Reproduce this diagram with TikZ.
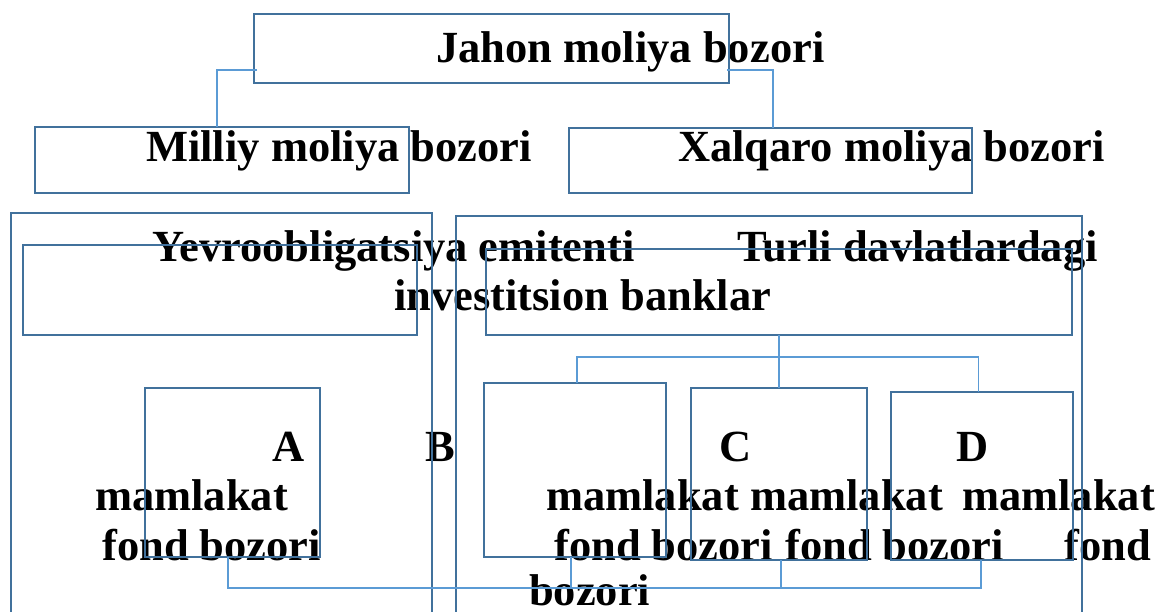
\documentclass[tikz,border=0pt]{standalone}
\usepackage{fontspec}
\setmainfont{Liberation Serif}
\usetikzlibrary{calc}
\definecolor{boxblue}{HTML}{41719C}
\definecolor{linkblue}{HTML}{5B9BD5}
\begin{document}
\begin{tikzpicture}[x=1pt,y=-1pt,
  box/.style={draw=boxblue, line width=2.8pt, inner sep=0pt, outer sep=0pt, anchor=north west},
  link/.style={draw=linkblue, line width=1.1pt},
  lbl/.style={anchor=base west, inner sep=0pt, font=\fontsize{44.5}{50}\selectfont\bfseries}]
\clip (0,0) rectangle (1166,611);
\fill[white] (0,0) rectangle (1166,611);

% texts
\node[lbl] (tjahon) at (436,62) {Jahon moliya bozori};
\node[lbl] (tmilliy) at (146,161) {Milliy moliya bozori};
\node[lbl] (txalqaro) at (678,161) {Xalqaro moliya bozori};
\node[lbl] (tyevro) at (152,261) {Yevroobligatsiya emitenti};
\node[lbl] (tturli) at (737,261) {Turli davlatlardagi};
\node[lbl] (tinvest) at (394,310) {investitsion banklar};
\node[lbl] (ta) at (272,461) {A};
\node[lbl] (tb) at (425,461) {B};
\node[lbl] (tc) at (719,461) {C};
\node[lbl] (td) at (956,461) {D};
\node[lbl] (ma) at (95,510) {mamlakat};
\node[lbl] (mb) at (546,510) {mamlakat};
\node[lbl] (mc) at (750,510) {mamlakat};
\node[lbl] (md) at (962,510) {mamlakat};
\node[lbl] (fa) at (102,560) {fond bozori};
\node[lbl] (fb) at (554,560) {fond bozori};
\node[lbl] (fc) at (785,560) {fond bozori};
\node[lbl] (fd) at (1064,560) {fond};
\node[lbl] (bz) at (529,605) {bozori};

% boxes
\node[box, minimum width=475pt, minimum height=69pt] (jahon) at (254,14) {};
\node[box, minimum width=374pt, minimum height=66pt] (milliy) at (35,127) {};
\node[box, minimum width=403pt, minimum height=65pt] (xalqaro) at (569,128) {};
\node[box, minimum width=421pt, minimum height=420pt] (leftbig) at (11,213) {};
\node[box, minimum width=626pt, minimum height=420pt] (rightbig) at (456,216) {};
\node[box, minimum width=394pt, minimum height=90pt] (yevro) at (23,245) {};
\node[box, minimum width=586pt, minimum height=86pt] (turli) at (486,249) {};
\node[box, minimum width=175pt, minimum height=169pt] (A) at (145,388) {};
\node[box, minimum width=182pt, minimum height=174pt] (B) at (484,383) {};
\node[box, minimum width=176pt, minimum height=172pt] (C) at (691,388) {};
\node[box, minimum width=182pt, minimum height=168pt] (D) at (891,392) {};

% connectors
\coordinate (bus) at (778,357);
\coordinate (bbus) at (780,588);
\draw[link] ([xshift=3pt,yshift=-21.5pt]jahon.west) -| ([xshift=-5pt]milliy.north);
\draw[link] ([xshift=-2pt,yshift=-21.5pt]jahon.east) -| ([xshift=2.5pt]xalqaro.north);
\draw[link] (turli.south) -- (C.north);
\draw[link] ([xshift=2pt]B.north) |- (bus) -| ([xshift=-3.5pt]D.north);
\draw[link] ([xshift=-4.5pt]A.south) |- (bbus) -| ([xshift=-1pt]D.south);
\draw[link] ([xshift=-4pt]B.south) -- ([xshift=-4pt]B.south |- bbus);
\draw[link] ([xshift=2pt]C.south) -- ([xshift=2pt]C.south |- bbus);
\end{tikzpicture}
\end{document}
